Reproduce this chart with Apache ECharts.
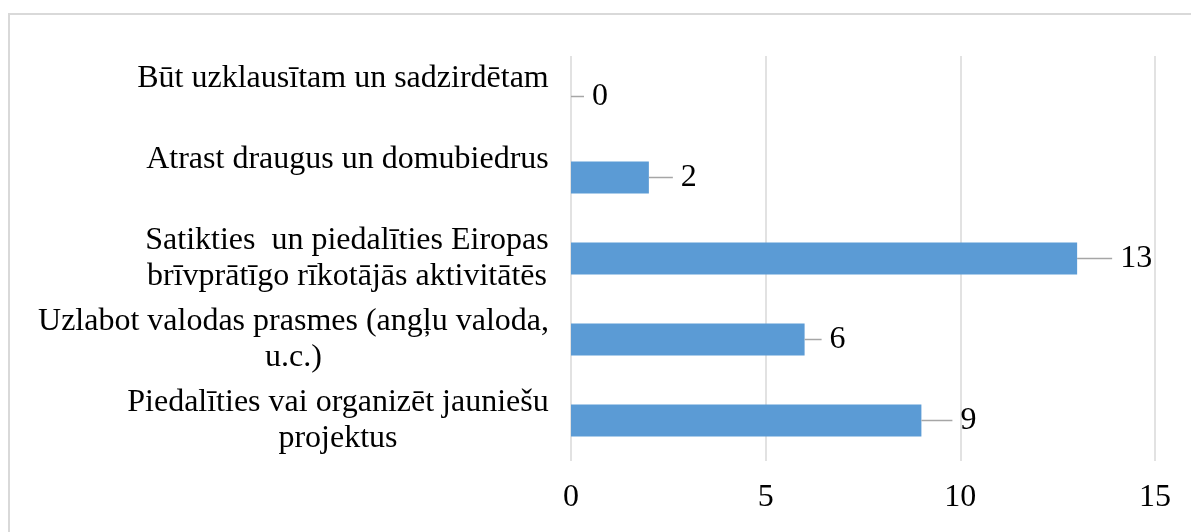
<!DOCTYPE html>
<html>
<head>
<meta charset="utf-8">
<script src="https://cdn.jsdelivr.net/npm/echarts@6/dist/echarts.min.js"></script>
<style>
    html, body { margin: 0; padding: 0; background: #fff; }
    #chart { width: 1191px; height: 532px; }
</style>
</head>
<body>
<div id="chart"></div>
<script>
    // categories, bottom to top (as echarts draws a category y axis)
    const categories = [
        'Piedalīties vai organizēt jauniešu\nprojektus',
        'Uzlabot valodas prasmes (angļu valoda,\nu.c.)',
        'Satikties  un piedalīties Eiropas\nbrīvprātīgo rīkotājās aktivitātēs',
        'Atrast draugus un domubiedrus',
        'Būt uzklausītam un sadzirdētam'
    ];
    const values = [9, 6, 13, 2, 0];
    const xMin = 0, xMax = 15, xStep = 5;

    const FONT = '"Liberation Serif", "Times New Roman", serif';
    const FSIZE = 32;

    // leader line length for each data label, as placed in the source
    const leaderLen = [31, 17, 35, 24, 13];

    // measure each label so its lines can be centred inside one block
    const ctx = document.createElement('canvas').getContext('2d');
    ctx.font = FSIZE + 'px ' + FONT;
    const catRich = {};
    categories.forEach((text, i) => {
        const w = Math.max(...text.split('\n').map(l => ctx.measureText(l).width));
        catRich['c' + i] = {
            width: Math.ceil(w),
            align: 'center',
            fontFamily: FONT,
            fontSize: FSIZE,
            lineHeight: 36,
            color: '#000'
        };
    });

    function catLabel(value, index) {
        const lines = value.split('\n');
        // single line labels sit above the bar in the source, keep a blank line under them
        if (lines.length === 1) lines.push(' ');
        return lines.map(l => '{c' + index + '|' + l + '}').join('\n');
    }

    const valRich = {
        v: {
            color: '#000',
            fontFamily: FONT,
            fontSize: FSIZE,
            lineHeight: 36,
            padding: [0, 0, 0, 8],
            verticalAlign: 'middle'
        }
    };
    leaderLen.forEach((len, i) => {
        valRich['ln' + i] = {
            width: len,
            height: 1.5,
            backgroundColor: '#a6a6a6',
            verticalAlign: 'middle'
        };
    });

    const chart = echarts.init(document.getElementById('chart'));
    chart.setOption({
        animation: false,
        graphic: [{
            type: 'rect',
            shape: { x: 9, y: 14, width: 1300, height: 700 },
            style: { fill: 'none', stroke: '#d9d9d9', lineWidth: 2 },
            silent: true
        }],
        grid: { left: 571, right: 36, top: 56, bottom: 71 },
        xAxis: {
            type: 'value',
            min: xMin,
            max: xMax,
            interval: xStep,
            axisLine: { show: false },
            axisTick: { show: false },
            splitLine: { lineStyle: { color: '#d9d9d9', width: 1.5 } },
            axisLabel: {
                color: '#000',
                fontFamily: FONT,
                fontSize: FSIZE,
                margin: 21
            }
        },
        yAxis: {
            type: 'category',
            data: categories,
            axisLine: { show: false },
            axisTick: { show: false },
            axisLabel: {
                margin: 22,
                formatter: catLabel,
                rich: catRich
            }
        },
        series: [{
            type: 'bar',
            data: values,
            barWidth: 32,
            itemStyle: { color: '#5b9bd5' },
            label: {
                show: true,
                position: 'right',
                distance: 0,
                formatter: p => '{ln' + p.dataIndex + '|}{v|' + p.value + '}',
                rich: valRich
            }
        }]
    });
</script>
</body>
</html>
